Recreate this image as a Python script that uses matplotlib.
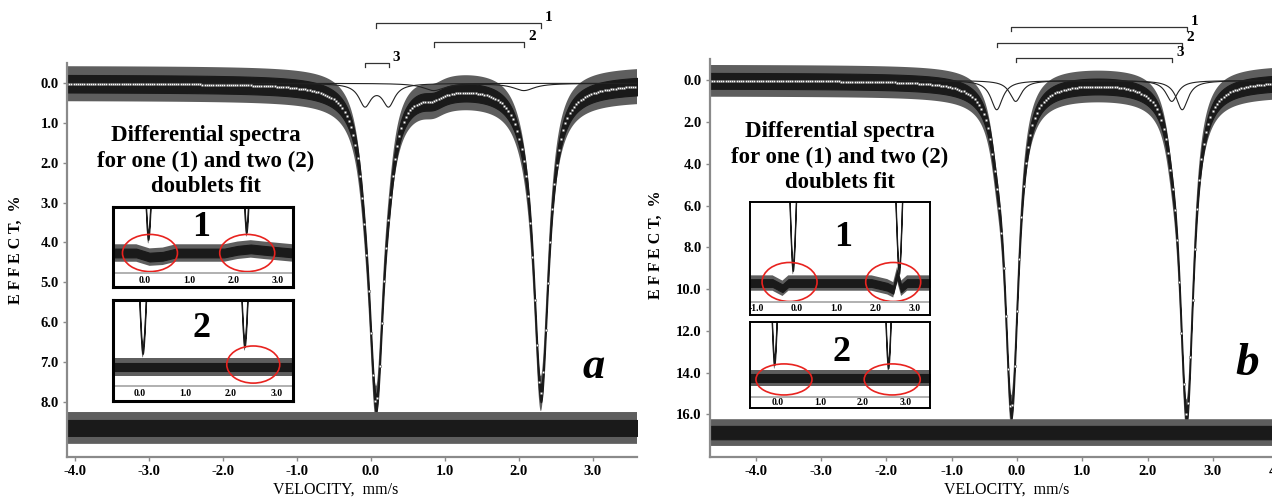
import numpy as np
import matplotlib.pyplot as plt
from matplotlib.patches import Ellipse

plt.rcParams['font.family'] = ['Liberation Serif', 'DejaVu Serif']
plt.rcParams['hatch.linewidth'] = 0.6

W, H = 1272, 500

# ---- panel a: doublets (line positions mm/s, depth %, FWHM mm/s)
a_centers = [[0.07, 2.30], [0.85, 2.07], [-0.08, 0.24]]
a_depths = [7.7, 0.18, 0.55]
a_widths = [0.25, 0.35, 0.20]
a_noise = 0.22
a_resid_level = 8.66
a_resid_noise = 0.2
a_xticks = [-4, -3, -2, -1, 0, 1, 2, 3]
a_yticks = [0, 1, 2, 3, 4, 5, 6, 7, 8]

# ---- panel b
b_centers = [[-0.09, 2.60], [-0.31, 2.53], [-0.02, 2.37]]
b_depths = [14.8, 1.4, 1.0]
b_widths = [0.25, 0.22, 0.22]
b_noise = 0.38
b_resid_level = 16.87
b_resid_noise = 0.32
b_xticks = [-4, -3, -2, -1, 0, 1, 2, 3, 4]
b_yticks = [0, 2, 4, 6, 8, 10, 12, 14, 16]

doublet_labels = ['1', '2', '3']

# ---- differential spectra in the insets (residual offsets read at a few velocities)
a1_resid_v = [-0.73, -0.2, 0.1, 0.4, 0.7, 1.8, 2.1, 2.4, 2.7, 3.36]
a1_resid_dev = [0, 0, 0.15, 0.12, 0, 0, -0.1, -0.15, -0.1, 0]
a2_resid_v = [-0.58, 3.36]
a2_resid_dev = [0, 0]
b1_resid_v = [-1.17, -0.6, -0.35, -0.2, 0.1, 1.9, 2.3, 2.45, 2.55, 2.65, 2.8, 3.38]
b1_resid_dev = [0, 0, 0.35, 0, 0, 0, 0.25, 0.45, -0.6, 0.35, 0, 0]
b2_resid_v = [-0.66, 3.58]
b2_resid_dev = [0, 0]
a_inset_ticks = [0, 1, 2, 3]
b1_inset_ticks = [-1, 0, 1, 2, 3]
b2_inset_ticks = [0, 1, 2, 3]

TITLE = "Differential spectra\nfor one (1) and two (2)\ndoublets fit"


def px_rect(x0, y0, x1, y1):
    return [x0 / W, 1 - y1 / H, (x1 - x0) / W, (y1 - y0) / H]


def lorentz_doublet(v, centers, depth, width):
    out = np.zeros_like(v)
    for c in centers:
        out += depth / (1 + (2 * (v - c) / width) ** 2)
    return out


def draw_band(ax, v, y, half):
    # spiky outer part as dense vertical hatch, dark core
    ax.fill_between(v, y - 2.0 * half, y + 2.0 * half, facecolor='none',
                    edgecolor='#5e5e5e', hatch='|' * 24, lw=0)
    ax.fill_between(v, y - half, y + half, color='#1a1a1a', lw=0.8)


def spectrum(v, centers, depths, widths):
    comps = [lorentz_doublet(v, c, d, w) for c, d, w in zip(centers, depths, widths)]
    return comps, np.sum(comps, axis=0)


fig = plt.figure(figsize=(W / 100, H / 100), dpi=100)


def main_panel(rect, xlim, ylim, centers, depths, widths, noise, r_level, r_noise,
               xticks, yticks, bracket_y, bracket_tick):
    ax = fig.add_axes(rect)
    v = np.linspace(xlim[0], xlim[1], 6000)
    comps, total = spectrum(v, centers, depths, widths)
    for comp in comps[1:]:
        ax.plot(v, comp, color='#222222', lw=0.8)
    draw_band(ax, v, total, noise)
    ax.plot(v, total, lw=0, marker='o', ms=1.8, mfc='white', mec='#555555',
            mew=0.4, markevery=23)
    draw_band(ax, v, np.full_like(v, r_level), r_noise)

    ax.set_xlim(xlim)
    ax.set_ylim(ylim)
    ax.set_xticks(xticks)
    ax.set_xticklabels([f"{t:.1f}" for t in xticks])
    ax.set_yticks(yticks)
    ax.set_yticklabels([f"{t:.1f}" for t in yticks])
    for side in ['top', 'right']:
        ax.spines[side].set_visible(False)
    for side in ['left', 'bottom']:
        ax.spines[side].set_color('#8a8a8a')
        ax.spines[side].set_linewidth(1.6)
    ax.tick_params(length=3, width=1, color='#8a8a8a', labelsize=10.5, pad=3)
    for lab in ax.get_xticklabels() + ax.get_yticklabels():
        lab.set_fontweight('bold')

    # doublet brackets above the frame
    for (c0, c1), y, lab in zip(centers, bracket_y, doublet_labels):
        lo, hi = min(c0, c1), max(c0, c1)
        ax.plot([lo, lo, hi, hi], [y + bracket_tick, y, y, y + bracket_tick],
                color='#333333', lw=0.9, clip_on=False)
        ax.annotate(lab, (hi, y), xytext=(3, 4), textcoords='offset points',
                    ha='left', va='center', fontsize=11, fontweight='bold',
                    annotation_clip=False)
    return ax


def inset(frame, xlim, ylim, gray_level, centers, depths, widths, noise,
          resid_v, resid_dev, r_level, r_noise, ticks, number, number_xy,
          ellipses, frame_lw):
    ax = fig.add_axes(px_rect(*frame))
    ax.set_facecolor('white')
    v = np.linspace(xlim[0], xlim[1], 3000)
    _, total = spectrum(v, centers, depths, widths)
    draw_band(ax, v, total, noise * 0.6)
    rv = np.array(resid_v)
    draw_band(ax, rv, r_level + np.array(resid_dev), r_noise)
    ax.axhline(gray_level, color='#b0b0b0', lw=1.4)
    label_y = (gray_level + ylim[0]) / 2
    for t in ticks:
        ax.text(t, label_y, f"{t:.1f}", ha='center', va='center', fontsize=7,
                fontweight='bold', clip_on=True)
    ax.text(number_xy[0], number_xy[1], number, transform=ax.transAxes,
            ha='center', va='center', fontsize=26, fontweight='bold')
    for (ex, ey, ew, eh) in ellipses:
        ax.add_patch(Ellipse((ex, ey), ew, eh, fill=False, ec='#e8231f', lw=1.2))
    ax.set_xlim(xlim)
    ax.set_ylim(ylim)
    ax.set_xticks([])
    ax.set_yticks([])
    for s in ax.spines.values():
        s.set_linewidth(frame_lw)
        s.set_color('black')
    return ax


# ---------------- panel a ----------------
main_panel(px_rect(67, 63, 637, 457), (-4.11, 3.60), (9.39, -0.51),
           a_centers, a_depths, a_widths, a_noise, a_resid_level, a_resid_noise,
           a_xticks, a_yticks, [-1.52, -1.04, -0.52], 0.12)

inset((113, 207, 293, 287), (-0.73, 3.36), (9.905, 6.975), 9.393,
      a_centers, a_depths, a_widths, a_noise, a1_resid_v, a1_resid_dev,
      a_resid_level, a_resid_noise * 0.8, a_inset_ticks, '1', (0.49, 0.74),
      [(0.11, 8.66, 1.25, 1.36), (2.32, 8.66, 1.25, 1.36)], 2.2)
inset((113, 300, 293, 401), (-0.58, 3.36), (9.905, 6.206), 9.356,
      a_centers, a_depths, a_widths, a_noise, a2_resid_v, a2_resid_dev,
      a_resid_level, a_resid_noise * 0.8, a_inset_ticks, '2', (0.49, 0.72),
      [(2.49, 8.57, 1.16, 1.36)], 2.2)

fig.text(206 / W, 1 - 161 / H, TITLE, ha='center', va='center', fontsize=16.5,
         fontweight='bold', linespacing=1.3)
fig.text(594 / W, 1 - 367 / H, 'a', ha='center', va='center', fontsize=32,
         fontweight='bold', style='italic')
fig.text(16 / W, 1 - 250 / H, 'E F F E C T,  %', rotation=90, ha='center',
         va='center', fontsize=11.5, fontweight='bold')
fig.text(336 / W, 1 - 490 / H, 'VELOCITY,  mm/s', ha='center', va='center',
         fontsize=11.5)

# ---------------- panel b ----------------
main_panel(px_rect(710, 59, 1290, 457), (-4.70, 4.18), (18.04, -1.03),
           b_centers, b_depths, b_widths, b_noise, b_resid_level, b_resid_noise,
           b_xticks, b_yticks, [-2.56, -1.79, -1.08], 0.2)

inset((750, 202, 930, 315), (-1.17, 3.38), (19.0, 11.47), 18.14,
      b_centers, b_depths, b_widths, b_noise, b1_resid_v, b1_resid_dev,
      b_resid_level, b_resid_noise * 0.8, b1_inset_ticks, '1', (0.52, 0.69),
      [(-0.17, 16.8, 1.39, 2.6), (2.45, 16.8, 1.39, 2.6)], 1.4)
inset((750, 322, 930, 408), (-0.66, 3.58), (18.745, 13.37), 18.06,
      b_centers, b_depths, b_widths, b_noise, b2_resid_v, b2_resid_dev,
      b_resid_level, b_resid_noise * 0.8, b2_inset_ticks, '2', (0.51, 0.65),
      [(0.14, 16.96, 1.32, 1.94), (2.69, 16.96, 1.32, 1.94)], 1.4)

fig.text(840 / W, 1 - 157 / H, TITLE, ha='center', va='center', fontsize=16.5,
         fontweight='bold', linespacing=1.3)
fig.text(1247 / W, 1 - 364 / H, 'b', ha='center', va='center', fontsize=34,
         fontweight='bold', style='italic')
fig.text(656 / W, 1 - 245 / H, 'E F F E C T,  %', rotation=90, ha='center',
         va='center', fontsize=11.5, fontweight='bold')
fig.text(1007 / W, 1 - 490 / H, 'VELOCITY,  mm/s', ha='center', va='center',
         fontsize=11.5)

fig.savefig('out.png', dpi=100)
